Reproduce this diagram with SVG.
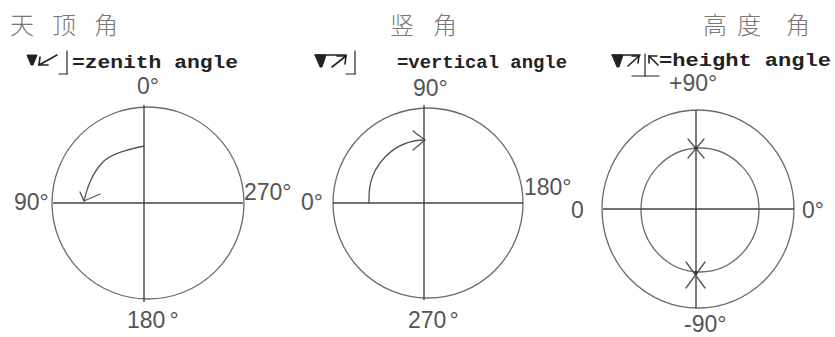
<svg xmlns="http://www.w3.org/2000/svg" width="835" height="337" viewBox="0 0 835 337">
<style>
.bg{fill:#ffffff}
.circ{fill:none;stroke:#6a6a6a;stroke-width:1.3}
.axis{stroke:#4a3f48;stroke-width:1.4;fill:none}
.arr{fill:none;stroke:#555;stroke-width:1.3;stroke-linecap:round;stroke-linejoin:round}
.deg{font-family:"Liberation Sans",Arial,sans-serif;font-size:23px;fill:#555}
.title{font-family:"Noto Sans CJK SC",sans-serif;font-size:24px;fill:#777;font-weight:300}
.lab{font-family:"Liberation Mono","Courier New",monospace;font-size:19px;font-weight:bold;fill:#222}
.sym{fill:none;stroke:#222;stroke-width:1.6;stroke-linecap:round;stroke-linejoin:round}
.symf{fill:#222;stroke:#222;stroke-width:1}
</style>
<rect class="bg" x="0" y="0" width="835" height="337"/>

<g id="zenith">
  <text class="title" x="10" y="34">天</text>
  <text class="title" x="52" y="34">顶</text>
  <text class="title" x="94" y="34">角</text>
  <g id="zenith-symbol">
    <polygon class="symf" points="27,55 37,55 33,65 31,65"/>
    <line class="sym" x1="57" y1="55" x2="39" y2="65"/>
    <line class="sym" x1="39" y1="65" x2="48" y2="65"/>
    <line class="sym" x1="39" y1="65" x2="40" y2="57"/>
    <line class="sym" x1="67" y1="51" x2="67" y2="74" style="stroke-width:1.2"/>
    <line class="sym" x1="59" y1="74" x2="67" y2="74" style="stroke-width:1.2"/>
  </g>
  <text class="lab" x="72" y="68" textLength="166" lengthAdjust="spacingAndGlyphs">=zenith angle</text>
  <circle class="circ" cx="148" cy="203" r="96"/>
  <line class="axis" x1="53" y1="203" x2="243" y2="203"/>
  <line class="axis" x1="144" y1="105" x2="144" y2="302"/>
  <text class="deg" x="137" y="94">0°</text>
  <text class="deg" x="14" y="210">90°</text>
  <text class="deg" x="244" y="200">270°</text>
  <text class="deg" x="127" y="328">180<tspan dx="4">°</tspan></text>
</g>

<g id="vertical">
  <text class="title" x="390" y="34">竖</text>
  <text class="title" x="433" y="34">角</text>
  <g id="vertical-symbol">
    <polygon class="symf" points="315,55 326,55 322,67 320,67"/>
    <line class="sym" x1="315" y1="55" x2="346" y2="55"/>
    <line class="sym" x1="332" y1="67" x2="346" y2="56"/>
    <line class="sym" x1="346" y1="56" x2="337" y2="56"/>
    <line class="sym" x1="346" y1="56" x2="345" y2="64"/>
    <line class="sym" x1="355" y1="51" x2="355" y2="74" style="stroke-width:1.2"/>
    <line class="sym" x1="346" y1="74" x2="355" y2="74" style="stroke-width:1.2"/>
  </g>
  <text class="lab" x="397" y="68" textLength="170" lengthAdjust="spacingAndGlyphs">=vertical angle</text>
  <circle class="circ" cx="428" cy="203" r="95"/>
  <line class="axis" x1="333" y1="203" x2="523" y2="203"/>
  <line class="axis" x1="424" y1="105" x2="424" y2="300"/>
  <text class="deg" x="413" y="96">90°</text>
  <text class="deg" x="301" y="210">0°</text>
  <text class="deg" x="524" y="195">180°</text>
  <text class="deg" x="408" y="328">270<tspan dx="3">°</tspan></text>
</g>

<g id="height">
  <text class="title" x="703" y="34">高</text>
  <text class="title" x="737" y="34">度</text>
  <text class="title" x="786" y="34">角</text>
  <g id="height-symbol">
    <polygon class="symf" points="612,55 623,55 619,67 617,67"/>
    <line class="sym" x1="612" y1="55" x2="640" y2="55"/>
    <line class="sym" x1="628" y1="66" x2="639" y2="56"/>
    <line class="sym" x1="639" y1="56" x2="632" y2="56"/>
    <line class="sym" x1="639" y1="56" x2="638" y2="63"/>
    <line class="sym" x1="645" y1="54" x2="645" y2="76" style="stroke-width:1.2"/>
    <line class="sym" x1="632" y1="76" x2="659" y2="76" style="stroke-width:1.2"/>
    <line class="sym" x1="658" y1="65" x2="649" y2="56"/>
    <line class="sym" x1="649" y1="56" x2="657" y2="56"/>
    <line class="sym" x1="649" y1="56" x2="649" y2="63"/>
  </g>
  <text class="lab" x="659" y="66" textLength="172" lengthAdjust="spacingAndGlyphs">=height angle</text>
  <ellipse class="circ" cx="698" cy="209" rx="96" ry="99"/>
  <ellipse class="circ" cx="700" cy="210" rx="59" ry="62"/>
  <line class="axis" x1="603" y1="209" x2="794" y2="209"/>
  <line class="axis" x1="696" y1="110" x2="696" y2="308"/>
  <text class="deg" x="669" y="91">+90°</text>
  <text class="deg" x="571" y="218">0</text>
  <text class="deg" x="802" y="218">0°</text>
  <text class="deg" x="684" y="332">-90°</text>
</g>

<g id="connectors">
  <path class="arr" d="M144,146 C126,150 110,154 102,163 C91,175 87,189 84,201"/>
  <polyline class="arr" points="80,192 84,201 100,194"/>
  <path class="arr" d="M369,203 V197 A56,57 0 0 1 425,140"/>
  <polyline class="arr" points="413,131 425,140 413,150"/>
  <path class="arr" d="M688,139 L704,158 M704,139 L688,158"/>
  <path class="arr" d="M686,262 L705,288 M705,262 L686,288"/>
  <circle cx="696" cy="148" r="1.8" fill="#333"/>
  <circle cx="696" cy="273" r="1.8" fill="#333"/>
</g>
</svg>
